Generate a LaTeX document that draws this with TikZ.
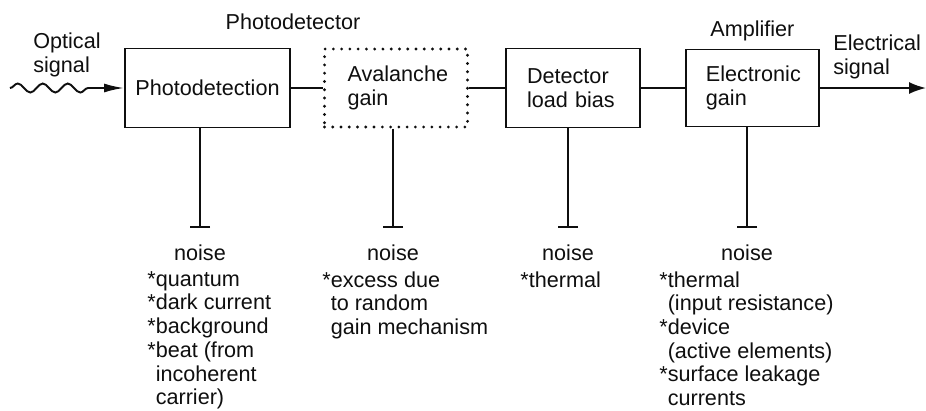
\documentclass[tikz,border=0pt]{standalone}
\usepackage{fontspec}
\setmainfont{Liberation Sans}
\usetikzlibrary{arrows.meta,positioning,decorations.pathmorphing}
\definecolor{inkclr}{RGB}{15,15,15}
\newcommand\dgfont{\fontsize{12.3}{13.5}\selectfont}
\tikzset{
  blk/.style={rectangle,draw=inkclr,line width=1.1pt,minimum height=1.58cm,
    font=\dgfont,align=left,text=inkclr,inner sep=0pt},
  dotbox/.style={dash pattern=on 0pt off 4.7pt,line cap=round,line width=1.8pt},
  wire/.style={line width=1.1pt,color=inkclr},
  tee/.style={wire,-{Bar[width=0.4cm,line width=1.1pt]}},
  sig/.style={wire,-{Latex[length=0.4cm,width=0.18cm]}},
  wave/.style={sig,decorate,decoration={snake,segment length=0.5cm,
    amplitude=0.09cm,post length=0.5cm}},
  lbl/.style={font=\dgfont,text=inkclr,inner sep=0pt,align=left},
}

\begin{document}
\begin{tikzpicture}[x=0.02cm,y=-0.02cm,node distance=0.7cm]
  \path[use as bounding box,fill=white] (0,0) rectangle (926,410);

  % signal chain
  \node[blk,minimum width=3.3cm,align=center] (pd) at (207.5,88) {Photodetection};
  \node[blk,dotbox,right=0.64cm of pd,minimum height=1.56cm,
    text width=1.94cm,inner xsep=0.46cm] (ag) {Avalanche\\gain};
  \node[blk,right=0.72cm of ag,text width=1.84cm,inner xsep=0.42cm] (dl)
    {Detector\\load bias};
  \node[blk,right=0.88cm of dl,minimum height=1.54cm,text width=1.86cm,
    inner xsep=0.4cm] (eg) {Electronic\\gain};

  \draw[wire] (pd) -- (ag);
  \draw[wire] (ag) -- (dl);
  \draw[wire] (dl) -- (eg);

  \coordinate (osig) at (10,88);
  \coordinate (esig) at (926,88);
  \draw[wave] (osig) -- (pd.west);
  \draw[wire,-{Latex[length=0.34cm,width=0.24cm]}] (eg.east) -- (esig);

  \node[lbl,anchor=west] (opt) at (33,55) {Optical\\signal};
  \node[lbl,anchor=west] (ele) at (833,57) {Electrical\\signal};
  \node[lbl] (phd) at (293,22) {Photodetector};
  \node[lbl,above=0.14cm of eg] (amp) {Amplifier};

  % noise sources
  \foreach \b/\x in {pd/200,ag/393,dl/568,eg/747}{
    \coordinate (t\b) at (\x,228);
    \draw[tee] (t\b |- \b.south) -- (t\b);
    \node[lbl,below=0.32cm of t\b] (n\b) {noise};
  }

  \node[lbl,anchor=north west] (lpd) at (147,271)
    {*quantum\\*dark current\\*background\\*beat (from\\
     \hphantom{*}incoherent\\\hphantom{*}carrier)};
  \node[lbl,anchor=north west] (lag) at (322,271)
    {*excess due\\\hphantom{*}to random\\\hphantom{*}gain mechanism};
  \node[lbl,anchor=north west] (ldl) at (520,271) {*thermal};
  \node[lbl,anchor=north west] (leg) at (659,271)
    {*thermal\\\hphantom{*}(input resistance)\\*device\\
     \hphantom{*}(active elements)\\*surface leakage\\\hphantom{*}currents};

\end{tikzpicture}
\end{document}
